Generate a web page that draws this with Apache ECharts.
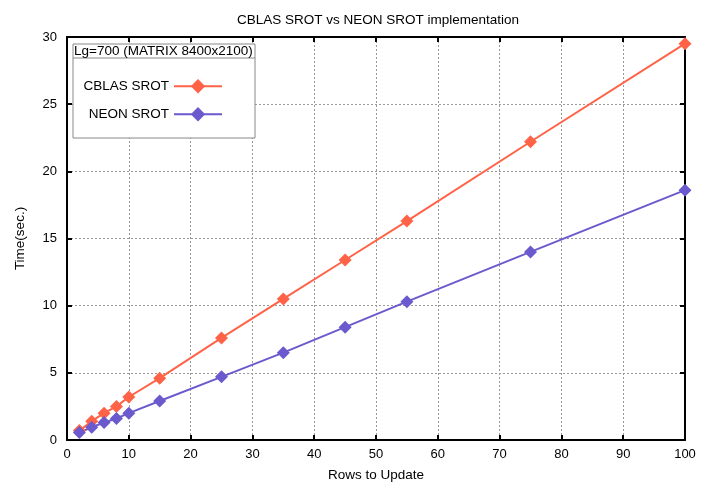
<!DOCTYPE html>
<html><head><meta charset="utf-8">
<script src="https://cdn.jsdelivr.net/npm/echarts@6/dist/echarts.min.js"></script>
<style>html,body{margin:0;padding:0;background:#fff}#c{width:709px;height:487px}</style>
</head><body><div id="c"></div>
<script>
const rows = [2, 4, 6, 8, 10, 15, 25, 35, 45, 55, 75, 100];
const cblas = [0.7, 1.4, 2.0, 2.5, 3.2, 4.6, 7.6, 10.5, 13.4, 16.3, 22.2, 29.5];
const neon = [0.55, 0.95, 1.3, 1.6, 2.0, 2.9, 4.7, 6.5, 8.4, 10.3, 14.0, 18.6];
const titleText = 'CBLAS SROT vs NEON SROT implementation';
const legendTitle = 'Lg=700 (MATRIX 8400x2100)';
const xName = 'Rows to Update';
const yName = 'Time(sec.)';

const F = 'Liberation Sans, Arial, sans-serif';
const chart = echarts.init(document.getElementById('c'), null, {renderer: 'canvas'});
const pair = (xs, ys) => xs.map((x, i) => [x, ys[i]]);
const split = {show: true, lineStyle: {color: '#999', type: [2, 2], width: 1}};
const aLine = {show: true, onZero: false, lineStyle: {color: '#000', width: 2}};
const aTick = {inside: true, length: 5, lineStyle: {color: '#000', width: 2}};
chart.setOption({
  animation: false,
  backgroundColor: '#fff',
  title: {text: titleText, left: 232, top: 8, textStyle: {fontFamily: F, fontSize: 13.5, fontWeight: 'normal', color: '#000'}},
  grid: {left: 67, right: 24, top: 37, bottom: 46},
  xAxis: [
    {type: 'value', min: 0, max: 100, interval: 10, name: xName, nameLocation: 'middle', nameGap: 28,
     nameTextStyle: {fontFamily: F, fontSize: 13.5, color: '#000'},
     axisLine: aLine, axisTick: aTick,
     axisLabel: {fontFamily: F, fontSize: 13, color: '#000', margin: 8}, splitLine: split},
    {type: 'value', position: 'top', min: 0, max: 100, interval: 10,
     axisLine: aLine, axisTick: aTick,
     axisLabel: {show: false}, splitLine: {show: false}}
  ],
  yAxis: [
    {type: 'value', min: 0, max: 30, interval: 5, name: yName, nameLocation: 'middle', nameGap: 40,
     nameTextStyle: {fontFamily: F, fontSize: 13.5, color: '#000'},
     axisLine: aLine, axisTick: aTick,
     axisLabel: {fontFamily: F, fontSize: 13, color: '#000', margin: 10}, splitLine: split},
    {type: 'value', position: 'right', min: 0, max: 30, interval: 5,
     axisLine: aLine, axisTick: aTick,
     axisLabel: {show: false}, splitLine: {show: false}}
  ],
  legend: [
    {data: ['CBLAS SROT'], orient: 'vertical', align: 'right', right: 481, top: 74, itemWidth: 48, itemHeight: 18, z: 60,
     textStyle: {fontFamily: F, fontSize: 13.5, color: '#000'}},
    {data: ['NEON SROT'], orient: 'vertical', align: 'right', right: 481, top: 102, itemWidth: 48, itemHeight: 18, z: 60,
     textStyle: {fontFamily: F, fontSize: 13.5, color: '#000'}}
  ],
  graphic: [
    {type: 'rect', shape: {x: 73, y: 44, width: 182, height: 94}, style: {fill: '#fff', stroke: '#888', lineWidth: 1}, z: 50},
    {type: 'line', shape: {x1: 73, y1: 58, x2: 255, y2: 58}, style: {stroke: '#888', lineWidth: 1}, z: 50},
    {type: 'text', x: 74, y: 44, style: {text: legendTitle, font: '13.5px ' + F, fill: '#000'}, z: 51}
  ],
  series: [
    {name: 'CBLAS SROT', type: 'line', data: pair(rows, cblas), symbol: 'diamond', symbolSize: 13,
     itemStyle: {color: '#ff6347'}, lineStyle: {color: '#ff6347', width: 2}, z: 3},
    {name: 'NEON SROT', type: 'line', data: pair(rows, neon), symbol: 'diamond', symbolSize: 13,
     itemStyle: {color: '#6a5acd'}, lineStyle: {color: '#6a5acd', width: 2}, z: 3}
  ]
});
</script></body></html>
